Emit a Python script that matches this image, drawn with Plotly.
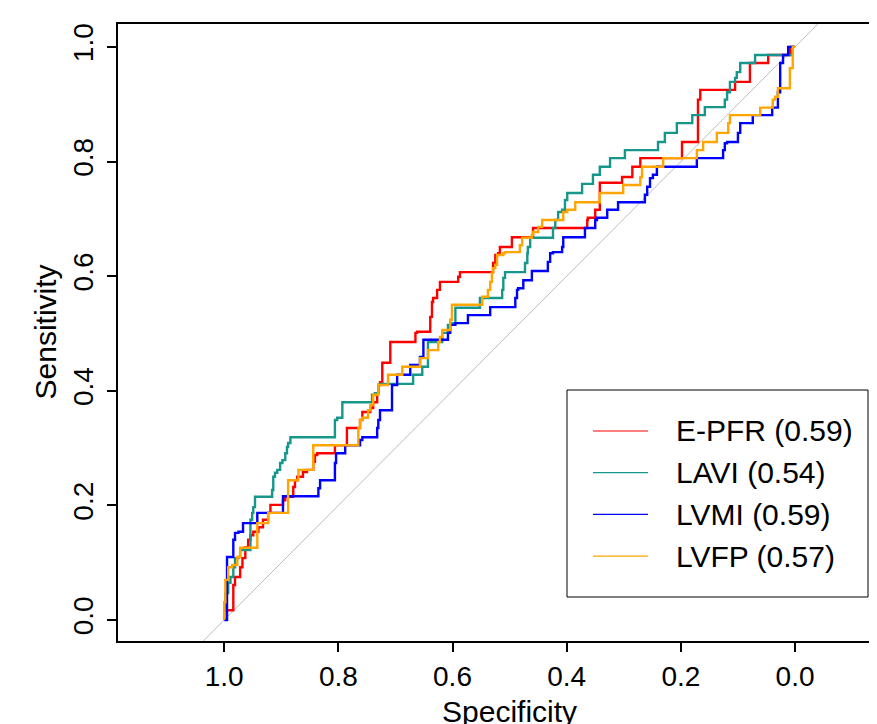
import numpy as np
import plotly.graph_objects as go

# ROC curves: (specificity, sensitivity) corner points
e_pfr = [(1.000, 0.000), (1.000, 0.017), (0.984, 0.017), (0.981, 0.061), (0.972, 0.075), (0.968, 0.092),
         (0.963, 0.108), (0.958, 0.127), (0.954, 0.140), (0.949, 0.148), (0.940, 0.154), (0.932, 0.162),
         (0.923, 0.175), (0.919, 0.187), (0.916, 0.201), (0.897, 0.201), (0.893, 0.209), (0.879, 0.215),
         (0.876, 0.232), (0.872, 0.244), (0.862, 0.250), (0.855, 0.258), (0.844, 0.262), (0.841, 0.276),
         (0.837, 0.288), (0.832, 0.291), (0.806, 0.291), (0.806, 0.302), (0.785, 0.305), (0.783, 0.335),
         (0.762, 0.335), (0.758, 0.349), (0.744, 0.363), (0.739, 0.370), (0.732, 0.380), (0.730, 0.396),
         (0.727, 0.410), (0.723, 0.415), (0.722, 0.449), (0.709, 0.449), (0.709, 0.485), (0.665, 0.485),
         (0.662, 0.501), (0.639, 0.503), (0.636, 0.529), (0.634, 0.555), (0.627, 0.562), (0.622, 0.576),
         (0.618, 0.590), (0.590, 0.590), (0.587, 0.599), (0.581, 0.607), (0.529, 0.607), (0.525, 0.623),
         (0.520, 0.637), (0.517, 0.640), (0.496, 0.651), (0.459, 0.668), (0.452, 0.684), (0.364, 0.684),
         (0.363, 0.698), (0.350, 0.702), (0.342, 0.716), (0.342, 0.745), (0.320, 0.763), (0.303, 0.763),
         (0.285, 0.773), (0.271, 0.791), (0.249, 0.806), (0.198, 0.806), (0.196, 0.834), (0.170, 0.834),
         (0.166, 0.908), (0.161, 0.925), (0.105, 0.925), (0.102, 0.939), (0.079, 0.939), (0.075, 0.972),
         (0.047, 0.972), (0.047, 0.986), (0.009, 0.986), (0.000, 1.000)]

lavi = [(1.000, 0.000), (0.998, 0.017), (0.993, 0.047), (0.989, 0.065), (0.984, 0.075), (0.981, 0.092),
        (0.975, 0.108), (0.972, 0.110), (0.954, 0.122), (0.954, 0.145), (0.951, 0.175), (0.949, 0.187),
        (0.946, 0.197), (0.940, 0.215), (0.916, 0.215), (0.914, 0.227), (0.911, 0.250), (0.907, 0.257),
        (0.902, 0.262), (0.898, 0.274), (0.893, 0.279), (0.890, 0.291), (0.888, 0.302), (0.884, 0.309),
        (0.876, 0.319), (0.806, 0.319), (0.802, 0.349), (0.793, 0.353), (0.792, 0.380), (0.741, 0.380),
        (0.736, 0.393), (0.730, 0.396), (0.727, 0.410), (0.723, 0.412), (0.669, 0.412), (0.669, 0.428),
        (0.653, 0.428), (0.651, 0.442), (0.643, 0.442), (0.643, 0.485), (0.618, 0.485), (0.616, 0.501),
        (0.608, 0.501), (0.601, 0.515), (0.595, 0.518), (0.592, 0.545), (0.552, 0.545), (0.548, 0.562),
        (0.513, 0.562), (0.511, 0.576), (0.508, 0.597), (0.504, 0.607), (0.473, 0.607), (0.469, 0.623),
        (0.468, 0.640), (0.464, 0.651), (0.461, 0.667), (0.424, 0.667), (0.420, 0.684), (0.415, 0.698),
        (0.408, 0.712), (0.403, 0.716), (0.399, 0.733), (0.394, 0.745), (0.373, 0.745), (0.371, 0.761),
        (0.354, 0.761), (0.350, 0.777), (0.342, 0.777), (0.338, 0.791), (0.324, 0.791), (0.320, 0.806),
        (0.298, 0.806), (0.294, 0.820), (0.240, 0.820), (0.236, 0.834), (0.228, 0.834), (0.224, 0.850),
        (0.207, 0.850), (0.205, 0.867), (0.180, 0.867), (0.179, 0.881), (0.158, 0.881), (0.154, 0.895),
        (0.123, 0.895), (0.119, 0.908), (0.114, 0.921), (0.110, 0.939), (0.105, 0.939), (0.102, 0.946),
        (0.096, 0.956), (0.091, 0.972), (0.070, 0.972), (0.067, 0.986), (0.005, 0.986), (0.000, 1.000)]

lvmi = [(1.000, 0.000), (0.995, 0.000), (0.995, 0.092), (0.989, 0.110), (0.984, 0.110), (0.981, 0.140),
        (0.975, 0.152), (0.967, 0.154), (0.963, 0.169), (0.942, 0.169), (0.940, 0.187), (0.897, 0.187),
        (0.893, 0.216), (0.835, 0.216), (0.832, 0.230), (0.827, 0.244), (0.806, 0.244), (0.804, 0.274),
        (0.800, 0.291), (0.788, 0.291), (0.785, 0.305), (0.762, 0.305), (0.758, 0.314), (0.748, 0.319),
        (0.732, 0.319), (0.730, 0.335), (0.727, 0.349), (0.723, 0.366), (0.706, 0.366), (0.706, 0.407),
        (0.697, 0.410), (0.692, 0.428), (0.674, 0.428), (0.674, 0.440), (0.657, 0.445), (0.651, 0.459),
        (0.651, 0.485), (0.644, 0.489), (0.608, 0.489), (0.604, 0.501), (0.595, 0.515), (0.573, 0.518),
        (0.573, 0.532), (0.534, 0.532), (0.531, 0.546), (0.490, 0.546), (0.487, 0.562), (0.485, 0.576),
        (0.476, 0.579), (0.473, 0.593), (0.461, 0.593), (0.459, 0.609), (0.433, 0.609), (0.429, 0.625),
        (0.424, 0.640), (0.408, 0.642), (0.406, 0.651), (0.399, 0.668), (0.368, 0.668), (0.364, 0.684),
        (0.350, 0.684), (0.347, 0.698), (0.329, 0.702), (0.327, 0.716), (0.310, 0.716), (0.306, 0.729),
        (0.263, 0.729), (0.259, 0.742), (0.254, 0.756), (0.249, 0.771), (0.242, 0.777), (0.233, 0.791),
        (0.172, 0.791), (0.170, 0.806), (0.126, 0.806), (0.123, 0.820), (0.119, 0.832), (0.100, 0.834),
        (0.096, 0.850), (0.093, 0.867), (0.074, 0.867), (0.070, 0.881), (0.040, 0.881), (0.039, 0.894),
        (0.030, 0.894), (0.026, 0.921), (0.026, 0.939), (0.021, 0.972), (0.012, 0.986), (0.009, 1.000),
        (0.000, 1.000)]

lvfp = [(1.000, 0.000), (1.000, 0.017), (0.998, 0.031), (0.993, 0.070), (0.986, 0.092), (0.977, 0.096),
        (0.972, 0.110), (0.967, 0.126), (0.942, 0.126), (0.942, 0.169), (0.923, 0.169), (0.919, 0.187),
        (0.888, 0.187), (0.888, 0.244), (0.870, 0.244), (0.867, 0.262), (0.844, 0.262), (0.841, 0.305),
        (0.765, 0.305), (0.762, 0.335), (0.758, 0.349), (0.748, 0.353), (0.744, 0.366), (0.739, 0.375),
        (0.730, 0.393), (0.727, 0.410), (0.713, 0.410), (0.709, 0.428), (0.688, 0.428), (0.688, 0.442),
        (0.657, 0.442), (0.653, 0.457), (0.643, 0.457), (0.643, 0.471), (0.625, 0.471), (0.622, 0.485),
        (0.618, 0.494), (0.604, 0.506), (0.601, 0.524), (0.599, 0.550), (0.548, 0.550), (0.546, 0.564),
        (0.538, 0.564), (0.534, 0.576), (0.531, 0.590), (0.529, 0.606), (0.525, 0.614), (0.522, 0.620),
        (0.520, 0.637), (0.511, 0.637), (0.508, 0.640), (0.482, 0.642), (0.478, 0.654), (0.476, 0.667),
        (0.461, 0.667), (0.459, 0.672), (0.450, 0.677), (0.443, 0.686), (0.441, 0.698), (0.406, 0.698),
        (0.399, 0.712), (0.385, 0.716), (0.382, 0.729), (0.342, 0.729), (0.338, 0.745), (0.301, 0.745),
        (0.301, 0.759), (0.271, 0.759), (0.268, 0.773), (0.266, 0.791), (0.231, 0.791), (0.228, 0.806),
        (0.172, 0.806), (0.170, 0.820), (0.161, 0.820), (0.158, 0.834), (0.137, 0.834), (0.135, 0.850),
        (0.117, 0.850), (0.114, 0.867), (0.110, 0.881), (0.061, 0.881), (0.058, 0.894), (0.039, 0.894),
        (0.035, 0.908), (0.030, 0.913), (0.026, 0.928), (0.009, 0.928), (0.004, 0.963), (0.000, 1.000)]

series_names = ["E-PFR", "LAVI", "LVMI", "LVFP"]
series_auc = [0.59, 0.54, 0.59, 0.57]
series_points = [e_pfr, lavi, lvmi, lvfp]
series_colors = ["#ff0000", "#17968c", "#0000ff", "#ffa500"]

tick_vals = [1.0, 0.8, 0.6, 0.4, 0.2, 0.0]
tick_text = ["1.0", "0.8", "0.6", "0.4", "0.2", "0.0"]

FONT = "Liberation Sans, Arial, sans-serif"

fig = go.Figure()

# chance diagonal
ref_x = np.array([1.4, -0.4])
fig.add_trace(go.Scatter(x=ref_x, y=1 - ref_x, mode="lines",
                         line=dict(color="#bebebe", width=1), hoverinfo="skip"))

for name, pts, col in zip(series_names, series_points, series_colors):
    spec, sens = zip(*pts)
    fig.add_trace(go.Scatter(x=spec, y=sens, mode="lines", name=name,
                             line=dict(color=col, width=2.4, shape="vh")))

# page has an 8px body margin, so figure coords = page coords - 8
L, T, W, H = 110, 16, 869, 716
B = 83
plot_w = W - L
plot_h = H - T - B
px = lambda v: (v - 8 - L) / plot_w
py = lambda v: (H - B - (v - 8)) / plot_h

# legend drawn by hand, R style
shapes = [dict(type="rect", xref="paper", yref="paper",
               x0=px(567), x1=px(868), y0=py(597), y1=py(390),
               line=dict(color="black", width=1), fillcolor="white", layer="above")]
annotations = []
for i, (name, auc, col) in enumerate(zip(series_names, series_auc, series_colors)):
    yy = py(431 + i * 41.7)
    shapes.append(dict(type="line", xref="paper", yref="paper", x0=px(593), x1=px(648),
                       y0=yy, y1=yy, line=dict(color=col, width=1.2), layer="above"))
    annotations.append(dict(text=f"{name} ({auc:.2f})", xref="paper", yref="paper",
                            x=px(674), y=yy, xanchor="left", yanchor="middle",
                            showarrow=False, font=dict(size=30, color="black", family=FONT)))

annotations.append(dict(text="Specificity", xref="paper", yref="paper", x=px(509), y=py(711),
                        xanchor="center", yanchor="middle", showarrow=False,
                        font=dict(size=30, color="black", family=FONT)))
annotations.append(dict(text="Sensitivity", xref="paper", yref="paper", x=px(45), y=0.5,
                        xanchor="center", yanchor="middle", textangle=-90, showarrow=False,
                        font=dict(size=30, color="black", family=FONT)))

fig.update_layout(
    width=W, height=H,
    margin=dict(l=L, r=0, t=T, b=B),
    paper_bgcolor="white", plot_bgcolor="white",
    showlegend=False,
    font=dict(family=FONT, size=28, color="black"),
    shapes=shapes, annotations=annotations,
    xaxis=dict(range=[1.186, -0.1436], tickvals=tick_vals, ticktext=tick_text,
               ticks="outside", ticklen=9, tickwidth=1.5, tickcolor="black",
               showline=True, linecolor="black", linewidth=1.5, mirror=True,
               showgrid=False, zeroline=False, automargin=False, ticklabelstandoff=1),
    yaxis=dict(range=[-0.0366, 1.040], tickvals=tick_vals, ticktext=tick_text,
               tickangle=-90,
               ticks="outside", ticklen=9, tickwidth=1.5, tickcolor="black",
               showline=True, linecolor="black", linewidth=1.5,
               showgrid=False, zeroline=False, automargin=False, ticklabelstandoff=3),
)

fig.write_html("out.html")
